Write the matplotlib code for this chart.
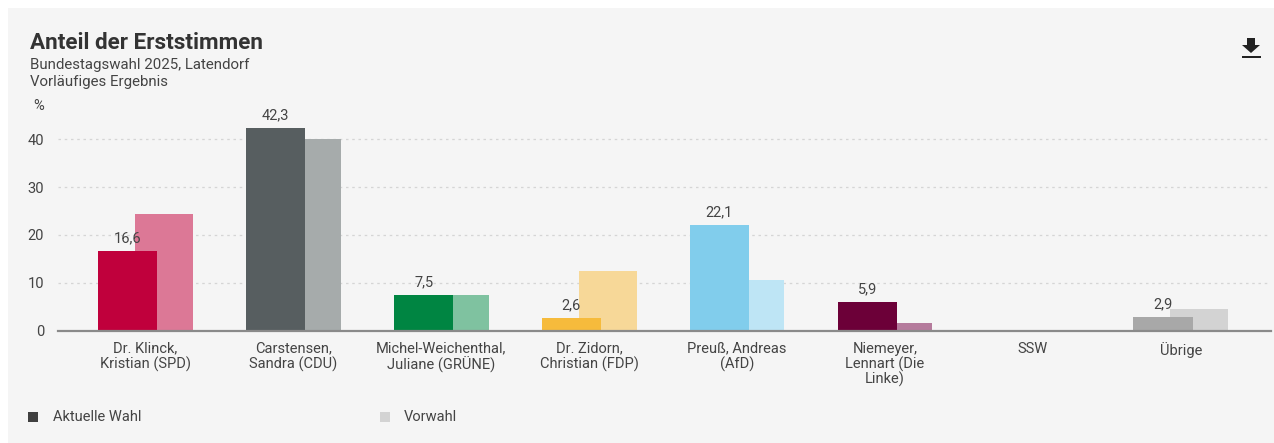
import numpy as np
import matplotlib.pyplot as plt
from matplotlib.patches import Rectangle, Polygon

plt.rcParams['font.family'] = ['Roboto', 'DejaVu Sans']

# ===========================
# DATA
# ===========================
candidates = [
    "Dr. Klinck,\nKristian (SPD)",
    "Carstensen,\nSandra (CDU)",
    "Michel-Weichenthal,\nJuliane (GRÜNE)",
    "Dr. Zidorn,\nChristian (FDP)",
    "Preuß, Andreas\n(AfD)",
    "Niemeyer,\nLennart (Die\nLinke)",
    "SSW",
    "Übrige",
]
current = [16.6, 42.3, 7.5, 2.6, 22.1, 5.9, 0.0, 2.9]
previous = [24.3, 40.0, 7.5, 12.4, 10.6, 1.6, 0.0, 4.5]
value_labels = ["16,6", "42,3", "7,5", "2,6", "22,1", "5,9", "", "2,9"]

current_colors = ["#c0003c", "#575e60", "#008542", "#f6bb3c",
                  "#81cdec", "#6c0038", "#a8a8a8", "#a8a8a8"]
previous_colors = ["#dc7896", "#a6abab", "#7fc2a0", "#f7d898",
                   "#bee5f5", "#b57b9c", "#d3d3d3", "#d3d3d3"]

yticks = [0, 10, 20, 30, 40]

# ===========================
# FIGURE
# ===========================
W, H = 1274, 443
fig = plt.figure(figsize=(W / 100, H / 100), dpi=100)
fig.patch.set_facecolor("white")
fig.patches.append(Rectangle((8 / W, 0), 1, 435 / H, transform=fig.transFigure,
                             facecolor="#f5f5f5", edgecolor="none", zorder=-10))

ax = fig.add_axes([58 / W, (H - 330.5) / H, (1271 - 58) / W, 215 / H])
ax.set_facecolor("none")
ax.set_zorder(5)

x = np.arange(len(candidates))
ax.bar(x + 0.125, previous, width=0.39, color=previous_colors, zorder=2)
ax.bar(x - 0.12, current, width=0.40, color=current_colors, zorder=3)

for xi, v, lab in zip(x, current, value_labels):
    if lab:
        ax.text(xi - 0.12, v + 1.2, lab, ha="center", va="bottom",
                fontsize=10.5, color="#444444", zorder=4)

ax.set_xlim(-0.592, 7.61)
ax.set_ylim(0, 45)
ax.set_yticks(yticks)
ax.set_yticklabels([str(t) for t in yticks], fontsize=10.5, color="#444444")
ax.set_xticks(x)
ax.set_xticklabels(candidates, fontsize=10.5, color="#444444", linespacing=1.05)
ax.tick_params(axis="both", length=0)
ax.tick_params(axis="y", pad=10)
ax.tick_params(axis="x", pad=8)

for t in yticks[1:]:
    ax.axhline(t, color="#d5d5d5", lw=0.9, ls=(0, (2, 3)), zorder=1)

for s in ["top", "right", "left"]:
    ax.spines[s].set_visible(False)
ax.spines["bottom"].set_color("#8a8a8a")
ax.spines["bottom"].set_linewidth(1.6)
ax.spines["bottom"].set_zorder(5)

# ===========================
# TEXTS
# ===========================
fig.text(30 / W, 1 - 43 / H, "Anteil der Erststimmen", fontsize=16.2,
         fontweight="bold", color="#333333", va="center")
fig.text(30 / W, 1 - 65 / H, "Bundestagswahl 2025, Latendorf", fontsize=10.8,
         color="#444444", va="center")
fig.text(30 / W, 1 - 82 / H, "Vorläufiges Ergebnis", fontsize=10.8,
         color="#444444", va="center")
fig.text(33 / W, 1 - 106 / H, "%", fontsize=10.5, color="#444444", va="center")

# legend
fig.patches.append(Rectangle((28 / W, 1 - 422 / H), 10 / W, 10 / H,
                             transform=fig.transFigure, facecolor="#404040",
                             edgecolor="none"))
fig.text(53 / W, 1 - 417 / H, "Aktuelle Wahl", fontsize=10.5, color="#444444",
         va="center")
fig.patches.append(Rectangle((380 / W, 1 - 422 / H), 10 / W, 10 / H,
                             transform=fig.transFigure, facecolor="#d3d3d3",
                             edgecolor="none"))
fig.text(404 / W, 1 - 417 / H, "Vorwahl", fontsize=10.5, color="#444444",
         va="center")

# download icon
arrow = [(1247, 38), (1255, 38), (1255, 45), (1260, 45), (1251, 53),
         (1242, 45), (1247, 45)]
fig.patches.append(Polygon([(px / W, 1 - py / H) for px, py in arrow],
                           closed=True, transform=fig.transFigure,
                           facecolor="#222222", edgecolor="none"))
fig.patches.append(Rectangle((1242 / W, 1 - 58 / H), 19 / W, 2 / H,
                             transform=fig.transFigure, facecolor="#222222",
                             edgecolor="none"))

plt.savefig("out.png", dpi=100)
